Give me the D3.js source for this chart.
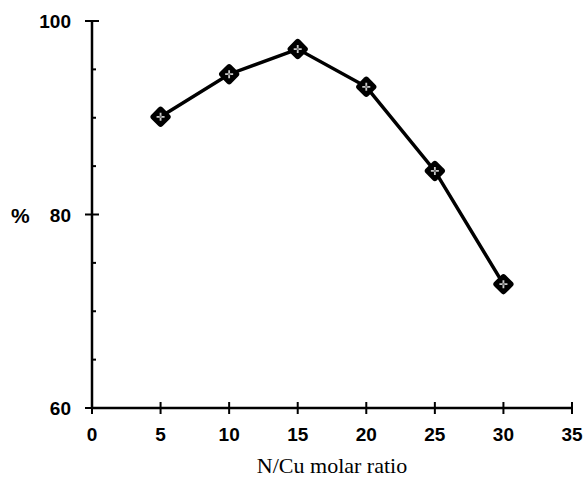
<!DOCTYPE html>
<html><head><meta charset="utf-8">
<script src="https://cdn.jsdelivr.net/npm/d3@7"></script>
<style>body{margin:0;background:#fff}</style>
</head><body>
<svg id="c" width="584" height="490"></svg>
<script>
const ratio = [5, 10, 15, 20, 25, 30];
const percent = [90.1, 94.5, 97.1, 93.2, 84.5, 72.8];
const xTicks = [0, 5, 10, 15, 20, 25, 30, 35];
const yMajor = [60, 80, 100];
const yMinor = [65, 70, 75, 85, 90, 95];

const svg = d3.select('#c');
const x = d3.scaleLinear().domain([0, 35]).range([92, 572]);
const y = d3.scaleLinear().domain([60, 100]).range([408, 21]);
const tickFont = 'Liberation Sans, Arial, sans-serif';

svg.append('line').attr('x1', x(0)).attr('x2', x(0)).attr('y1', y(100)).attr('y2', y(60))
  .attr('stroke', '#000').attr('stroke-width', 2.5);
svg.append('line').attr('x1', x(0)).attr('x2', x(35)).attr('y1', y(60)).attr('y2', y(60))
  .attr('stroke', '#000').attr('stroke-width', 2.5);

svg.selectAll('.ym').data(yMajor).join('line')
  .attr('x1', x(0) - 7).attr('x2', x(0) + 7)
  .attr('y1', d => y(d)).attr('y2', d => y(d))
  .attr('stroke', '#000').attr('stroke-width', 2);
svg.selectAll('.yn').data(yMinor).join('line')
  .attr('x1', x(0)).attr('x2', x(0) + 4)
  .attr('y1', d => y(d)).attr('y2', d => y(d))
  .attr('stroke', '#000').attr('stroke-width', 2);
svg.selectAll('.yl').data(yMajor).join('text')
  .attr('x', 71).attr('y', d => y(d) + 7)
  .attr('text-anchor', 'end')
  .attr('font-family', tickFont).attr('font-size', 19).attr('font-weight', 'bold')
  .text(d => d);

svg.selectAll('.xt').data(xTicks).join('line')
  .attr('x1', d => x(d)).attr('x2', d => x(d))
  .attr('y1', y(60) - 6).attr('y2', y(60) + 6)
  .attr('stroke', '#000').attr('stroke-width', 2);
svg.selectAll('.xl').data(xTicks).join('text')
  .attr('x', d => x(d)).attr('y', 441)
  .attr('text-anchor', 'middle')
  .attr('font-family', tickFont).attr('font-size', 19).attr('font-weight', 'bold')
  .text(d => d);

svg.append('text').attr('x', 11).attr('y', 223)
  .attr('font-family', tickFont).attr('font-size', 21).attr('font-weight', 'bold').text('%');
svg.append('text').attr('x', 332).attr('y', 473).attr('text-anchor', 'middle')
  .attr('font-family', 'Liberation Serif, Times New Roman, serif').attr('font-size', 22)
  .text('N/Cu molar ratio');

const pts = ratio.map((r, i) => [r, percent[i]]);
svg.append('path').datum(pts)
  .attr('d', d3.line().x(d => x(d[0])).y(d => y(d[1])))
  .attr('fill', 'none').attr('stroke', '#000').attr('stroke-width', 3.5);

const m = svg.selectAll('.mk').data(pts).join('g')
  .attr('transform', d => `translate(${x(d[0])},${y(d[1])})`);
m.append('rect').attr('x', -8).attr('y', -8).attr('width', 16).attr('height', 16)
  .attr('rx', 3).attr('transform', 'rotate(45)').attr('fill', '#000');
m.append('path').attr('d', 'M-4,0H4M0,-4V4')
  .attr('stroke', '#ccc').attr('stroke-width', 1.8);
m.append('circle').attr('r', 1.3).attr('fill', '#777');
</script>
</body></html>
